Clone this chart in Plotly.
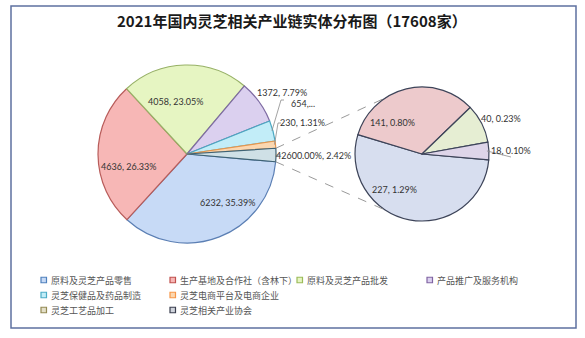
import math
import plotly.graph_objects as go

W, H = 585, 338

# ---------------- data ----------------
title_text = "2021年国内灵芝相关产业链实体分布图（17608家）"

main_labels = ["原料及灵芝产品零售", "生产基地及合作社（含林下）", "原料及灵芝产品批发",
               "产品推广及服务机构", "灵芝保健品及药品制造", "灵芝电商平台及电商企业", "其他"]
main_values = [6232, 4636, 4058, 1372, 654, 230, 426]

sub_labels = ["a", "b", "c", "d"]
sub_values = [227, 141, 40, 18]

legend_names = ["原料及灵芝产品零售", "生产基地及合作社（含林下）", "原料及灵芝产品批发", "产品推广及服务机构",
                "灵芝保健品及药品制造", "灵芝电商平台及电商企业",
                "灵芝工艺品加工", "灵芝相关产业协会"]

# ---------------- styles ----------------
main_fill = ["#c7daf6", "#f7b7b6", "#e6f5c2", "#dbd0ef", "#c2edf8", "#fbd7b0", "#cfe0e6"]
main_edge = ["#5b7fb4", "#b85c5a", "#97b166", "#7e6ba3", "#4ba8c2", "#e6964e", "#3e6274"]
sub_fill = ["#d7deef", "#edcacc", "#e6eed3", "#ded5e9"]
sub_edge = "#3d4459"
legend_fill = ["#c7daf6", "#f7b7b6", "#e6f5c2", "#dbd0ef", "#c2edf8", "#fbd7b0", "#e3dfc8", "#d0d4dc"]
legend_edge = ["#4f81bd", "#c0504d", "#9bbb59", "#8064a2", "#4bacc6", "#f79646", "#948a54", "#3a3f4f"]
legend_rows = [4, 2, 2]
label_font = dict(family="Lato", size=9, color="#333333")

def px(x):
    return x / W

def py(y):
    return 1 - y / H

ROT = 95
main_c, main_r = (187, 154), 89
sub_c, sub_r = (422, 154), 67
total = sum(main_values)

fig = go.Figure()

fig.add_trace(go.Pie(
    labels=main_labels, values=main_values, sort=False, direction="clockwise", rotation=ROT,
    marker=dict(colors=main_fill, line=dict(color=main_edge, width=1.2)),
    textinfo="none",
    domain=dict(x=[px(main_c[0] - main_r), px(main_c[0] + main_r)],
                y=[py(main_c[1] + main_r), py(main_c[1] - main_r)]),
    showlegend=False, hoverinfo="skip",
))

fig.add_trace(go.Pie(
    labels=sub_labels, values=sub_values, sort=False, direction="clockwise", rotation=ROT,
    marker=dict(colors=sub_fill, line=dict(color=sub_edge, width=1.2)),
    textinfo="none",
    domain=dict(x=[px(sub_c[0] - sub_r), px(sub_c[0] + sub_r)],
                y=[py(sub_c[1] + sub_r), py(sub_c[1] - sub_r)]),
    showlegend=False, hoverinfo="skip",
))

shapes = []
# frame
shapes.append(dict(type="rect", xref="paper", yref="paper", x0=px(11), x1=px(576), y0=py(328), y1=py(6),
                   line=dict(color="#5d70a0", width=1.5), fillcolor="rgba(0,0,0,0)", layer="below"))


def edge_point(center, r, values, i):
    tot = sum(values)
    frac = (sum(values[:i]) + values[i] / 2) / tot
    a = math.radians(ROT + frac * 360)
    return center[0] + r * math.sin(a), center[1] - r * math.cos(a)


# connectors from the aggregated slice to the secondary pie
f0 = sum(main_values[:-1]) / total
angles_main = [ROT + f0 * 360, ROT + 360]
angles_sub = [327, 213]
for am, asub in zip(angles_main, angles_sub):
    a1 = math.radians(am)
    a2 = math.radians(asub)
    x0 = main_c[0] + main_r * math.sin(a1)
    y0 = main_c[1] - main_r * math.cos(a1)
    x1 = sub_c[0] + sub_r * math.sin(a2)
    y1 = sub_c[1] - sub_r * math.cos(a2)
    shapes.append(dict(type="line", xref="paper", yref="paper", x0=px(x0), y0=py(y0), x1=px(x1), y1=py(y1),
                       line=dict(color="#9a9a9a", width=1, dash="dash")))

annotations = [dict(text="<b>" + title_text + "</b>", x=px(292), y=py(21), xref="paper", yref="paper",
                    showarrow=False,
                    font=dict(family="Noto Sans CJK SC", size=15, color="#1a1a1a"),
                    xanchor="center", yanchor="middle")]

# labels of the main pie (text built from the values)
v = main_values
main_text = [f"{x}, {x / total:.2%}" for x in v]
main_text[4] = f"{v[4]},..."
main_text[6] = f"{v[6] * 100:.2f}%, {v[6] / total:.2%}"
main_pos = [(227, 202), (128, 166), (175, 101), (282, 93), (303, 103), (302, 122), (313, 155)]
leader_end = {4: (281, 100), 5: (278, 123), 6: (278, 155)}
for i, txt in enumerate(main_text):
    tx, ty = main_pos[i]
    if i in leader_end:
        ex, ey = edge_point(main_c, main_r, main_values, i)
        lx, ly = leader_end[i]
        shapes.append(dict(type="path", xref="paper", yref="paper",
                           path=f"M {px(ex - 1)},{py(ey)} L {px(lx)},{py(ly)} L {px(lx + 3)},{py(ly)}",
                           line=dict(color="#8c8c8c", width=0.8)))
    annotations.append(dict(text=txt, x=px(tx), y=py(ty), xref="paper", yref="paper",
                            showarrow=False, xanchor="center", yanchor="middle", font=label_font))

# labels of the secondary pie (shares of the grand total)
sub_pos = [(394, 189), (393, 122), (501, 118), (511, 150)]
sub_leader = [False, False, False, True]
for i, sv in enumerate(sub_values):
    txt = f"{sv}, {sv / total:.2%}"
    tx, ty = sub_pos[i]
    if sub_leader[i]:
        ex, ey = edge_point(sub_c, sub_r, sub_values, i)
        shapes.append(dict(type="line", xref="paper", yref="paper", x0=px(ex - 2), y0=py(ey),
                           x1=px(tx + 0), y1=py(ty + 7), line=dict(color="#8c8c8c", width=0.8)))
    annotations.append(dict(text=txt, x=px(tx), y=py(ty), xref="paper", yref="paper",
                            showarrow=False, xanchor="center", yanchor="middle", font=label_font))

# legend
col_x = [41, 170, 297, 427]
row_y = [280, 295, 310]
k = 0
for r, n in enumerate(legend_rows):
    for c in range(n):
        x, y = col_x[c], row_y[r]
        shapes.append(dict(type="rect", xref="paper", yref="paper", x0=px(x), x1=px(x + 5.5),
                           y0=py(y + 2.75), y1=py(y - 2.75),
                           fillcolor=legend_fill[k], line=dict(color=legend_edge[k], width=1.2)))
        annotations.append(dict(text=legend_names[k], x=px(x + 8), y=py(y), xref="paper", yref="paper",
                                showarrow=False, xanchor="left", yanchor="middle",
                                font=dict(family="Noto Sans CJK SC", size=9, color="#555555")))
        k += 1

fig.update_layout(
    width=W, height=H, margin=dict(l=0, r=0, t=0, b=0),
    paper_bgcolor="white", plot_bgcolor="white",
    shapes=shapes, annotations=annotations,
)

fig.write_html("out.html")
